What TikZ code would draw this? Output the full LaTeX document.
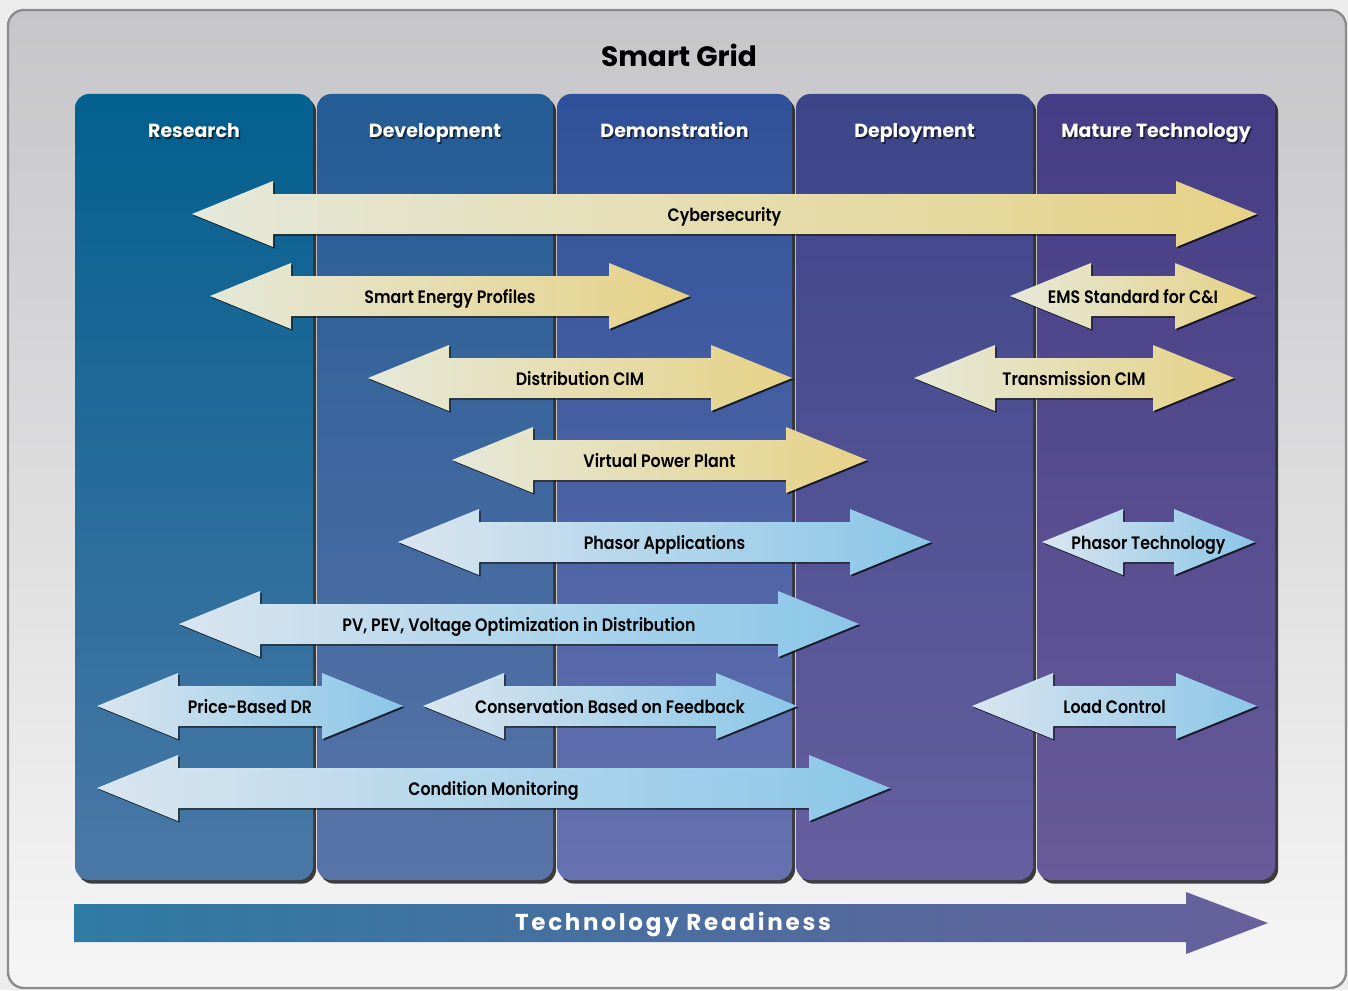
\documentclass[tikz,border=0pt]{standalone}
\usepackage{fontspec}
\setmainfont{Poppins}
\newfontfamily\lblfont[FakeStretch=0.88]{Poppins SemiBold}
\newfontfamily\spacedfont[LetterSpace=12]{Poppins}
\usetikzlibrary{shadows}

\definecolor{panelTop}{HTML}{C6C6CA}
\definecolor{panelMid}{HTML}{DDDDDE}
\definecolor{panelBot}{HTML}{F6F6F6}
\definecolor{resTop}{HTML}{03608F}
\definecolor{resBot}{HTML}{4A78A6}
\definecolor{devTop}{HTML}{245C95}
\definecolor{devBot}{HTML}{5A74A8}
\definecolor{demTop}{HTML}{2F5199}
\definecolor{demBot}{HTML}{6672B0}
\definecolor{depTop}{HTML}{3C4589}
\definecolor{depBot}{HTML}{665F9F}
\definecolor{matTop}{HTML}{453D85}
\definecolor{matBot}{HTML}{675B99}
\definecolor{yelA}{HTML}{EDEFDF}
\definecolor{yelB}{HTML}{EDD98A}
\definecolor{bluA}{HTML}{E0ECF6}
\definecolor{bluB}{HTML}{8ECCEE}
\definecolor{readA}{HTML}{2E7BA3}
\definecolor{readB}{HTML}{67609B}

\tikzset{
  panel/.style={rounded corners=8pt, draw=black!45, line width=1.2pt,
    top color=panelTop, bottom color=panelBot, middle color=panelMid},
  column/.style={rounded corners=7pt,
    drop shadow={shadow xshift=1.5pt, shadow yshift=-1.8pt, opacity=.75, fill=black}},
  colhead/.style={font=\bfseries\fontsize{9.5}{11}\selectfont, text=white, anchor=base},
  headshadow/.style={font=\bfseries\fontsize{9.5}{11}\selectfont, text=black, opacity=.55, anchor=base},
  yelarrow/.style={left color=yelA, right color=yelB, fill opacity=.97,
    drop shadow={shadow xshift=.8pt, shadow yshift=-.8pt, opacity=.7, fill=black}},
  bluarrow/.style={left color=bluA, right color=bluB, fill opacity=.97,
    drop shadow={shadow xshift=.8pt, shadow yshift=-.8pt, opacity=.7, fill=black}},
  lbl/.style={font=\lblfont\fontsize{9}{10}\selectfont, text=black, inner sep=0pt, anchor=base},
}

\begin{document}
\begin{tikzpicture}[x=0.5pt,y=-0.5pt]

% #1 name, #2 left tip, #3 right tip, #4 centre line, #5 style, #6 label
\newcommand\twoway[6]{%
  \path[#5] (#2,#4) -- (#2+81,#4-33) -- (#2+81,#4-20) -- (#3-81,#4-20)
    -- (#3-81,#4-33) -- (#3,#4) -- (#3-81,#4+33) -- (#3-81,#4+20)
    -- (#2+81,#4+20) -- (#2+81,#4+33) -- cycle;
  \node[lbl] (#1) at ({(#2+#3)/2},#4+7) {#6};
}

\useasboundingbox (0,0) rectangle (1348,990);
\fill[black!7] (0,0) rectangle (1348,990);

%% background panel
\path[panel] (8,10) rectangle (1346,988);
\node[font=\bfseries\fontsize{14}{16}\selectfont, anchor=base] (title) at (679,67) {Smart Grid};

%% stage columns
\foreach \l/\r/\ctop/\cbot/\name [count=\i] in
  {75/313/resTop/resBot/Research,
   317/553/devTop/devBot/Development,
   557/792/demTop/demBot/Demonstration,
   796/1033/depTop/depBot/Deployment,
   1037/1275/matTop/matBot/Mature Technology}
{
  \path[column, top color=\ctop, bottom color=\cbot] (\l,94) rectangle (\r,880);
  \node[headshadow] (shade-\i) at ({(\l+\r)/2+1.6},139.6) {\name};
  \node[colhead] (head-\i) at ({(\l+\r)/2},138) {\name};
}

%% technology arrows
\twoway{cyber}{192}{1257}{214}{yelarrow}{Cybersecurity}
\twoway{profiles}{210}{690}{296}{yelarrow}{Smart Energy Profiles}
\twoway{ems}{1010}{1256}{296}{yelarrow}{EMS Standard for C\&I}
\twoway{dcim}{368}{792}{378}{yelarrow}{Distribution CIM}
\twoway{tcim}{914}{1234}{378}{yelarrow}{Transmission CIM}
\twoway{vpp}{452}{867}{460}{yelarrow}{Virtual Power Plant}

\twoway{phapp}{398}{931}{542}{bluarrow}{Phasor Applications}
\twoway{phtech}{1042}{1255}{542}{bluarrow}{Phasor Technology}
\twoway{pv}{179}{859}{624}{bluarrow}{PV, PEV, Voltage Optimization in Distribution}
\twoway{pricedr}{97}{403}{706}{bluarrow}{Price-Based DR}
\twoway{conserv}{423}{797}{706}{bluarrow}{Conservation Based on Feedback}
\twoway{load}{972}{1257}{706}{bluarrow}{Load Control}
\twoway{condmon}{97}{890}{788}{bluarrow}{Condition Monitoring}

%% readiness axis
\path[left color=readA, right color=readB] (74,904) -- (1186,904) -- (1186,892)
  -- (1268,923) -- (1186,954) -- (1186,942) -- (74,942) -- cycle;
\node[text=white, font=\spacedfont\bfseries\fontsize{11.5}{13}\selectfont, anchor=base]
  (readiness) at (673,930) {Technology Readiness};

\end{tikzpicture}
\end{document}
